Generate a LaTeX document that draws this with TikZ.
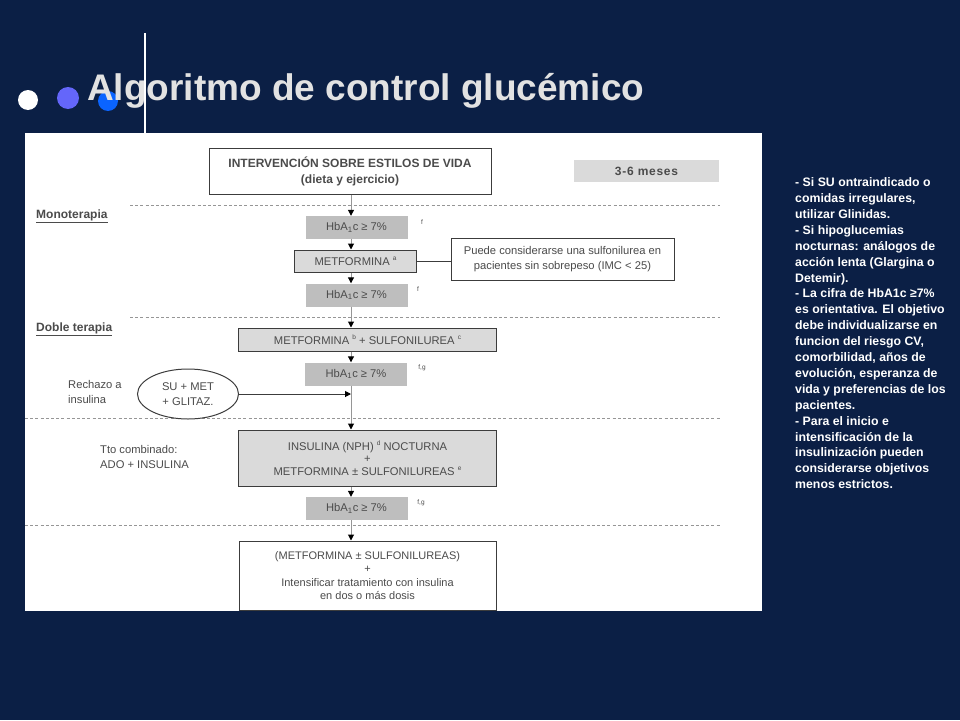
\documentclass[tikz,border=0pt]{standalone}
\usepackage{fontspec}
\setmainfont{Liberation Sans}
\usetikzlibrary{arrows.meta,shapes.geometric}
\definecolor{navy}{RGB}{11,31,69}
\definecolor{dotA}{RGB}{100,102,250}
\definecolor{dotB}{RGB}{10,100,255}
\definecolor{titlec}{RGB}{226,226,226}
\definecolor{hbgray}{RGB}{190,190,190}
\definecolor{boxgray}{RGB}{218,218,218}
\definecolor{edgec}{RGB}{60,60,60}
\definecolor{txtc}{RGB}{75,75,75}
\definecolor{linec}{RGB}{150,150,150}
\newcommand{\sr}[1]{\raisebox{0.45em}{\fontsize{6.5}{7}\selectfont #1}}
\begin{document}
\begin{tikzpicture}[x=1pt,y=-1pt,
  ff/.style={font=\fontsize{11.2}{13}\selectfont, text=txtc},
  fb/.style={font=\fontsize{12}{16}\selectfont\bfseries, text=txtc},
  hbbox/.style={ff, fill=hbgray, minimum width=102, minimum height=23, inner sep=0},
  widebox/.style={ff, fill=boxgray, draw=edgec, line width=1, inner sep=0, align=center},
  whitebox/.style={fill=white, draw=edgec, line width=1, inner sep=0, align=center},
  conn/.style={draw=linec, line width=1, -{Triangle[length=6,width=6,fill=black,color=black]}},
  plainconn/.style={draw=edgec, line width=1},
  dline/.style={draw=linec, line width=0.9, dash pattern=on 3 off 2.2},
  lbl/.style={font=\fontsize{11.2}{15}\selectfont, text=txtc, align=left, inner sep=0},
  sup/.style={font=\fontsize{6.5}{7}\selectfont, text=txtc, inner sep=0}
]
\useasboundingbox (0,0) rectangle (960,720);
\fill[navy] (0,0) rectangle (960,720);
\fill[white] (25,133) rectangle (762,611);

% header decoration
\fill[white] (28,100) circle (10);
\fill[dotA] (68,98) circle (11);
\fill[dotB] (108,101) circle (10);
\node[anchor=base west, inner sep=0, text=titlec, font=\fontsize{37}{40}\selectfont\bfseries] (title) at (87,100) {Algoritmo de control glucémico};
\draw[white, line width=2.5] (145,33) -- (145,133);

\coordinate (sp) at (351,0);

% dashed separators
\draw[dline] (130,205) -- (720,205);
\draw[dline] (130,317) -- (720,317);
\draw[dline] (25,418) -- (720,418);
\draw[dline] (25,525) -- (720,525);

% nodes
\node[whitebox, minimum width=282, minimum height=46, fb] (top) at (350,171) {INTERVENCIÓN SOBRE ESTILOS DE VIDA\\(dieta y ejercicio)};
\node[fill=boxgray, minimum width=145, minimum height=22, inner sep=0, fb] (meses) at (646.5,171) {\addfontfeature{LetterSpace=6}3-6 meses};

\node[hbbox] (hb1) at (356.5,227.5) {HbA\textsubscript{1}c ≥ 7\%};
\node[sup] (f1) at (422,222) {f};
\node[widebox, minimum width=122, minimum height=22] (met) at (355.5,261) {METFORMINA \sr{a}};
\node[whitebox, ff, minimum width=223, minimum height=42, font=\fontsize{11.2}{15}\selectfont] (side) at (562.5,259) {Puede considerarse una sulfonilurea en\\pacientes sin sobrepeso (IMC < 25)};
\node[hbbox] (hb2) at (356.5,295) {HbA\textsubscript{1}c ≥ 7\%};
\node[sup] (f2) at (418,289) {f};

\node[widebox, minimum width=258, minimum height=23] (msu) at (367.5,339.5) {METFORMINA \sr{b} + SULFONILUREA \sr{c}};
\node[hbbox] (hb3) at (356,374) {HbA\textsubscript{1}c ≥ 7\%};
\node[sup] (f3) at (422,368) {f,g};
\node[ellipse, draw=edgec, line width=1, fill=white, minimum width=101, minimum height=50, inner sep=0, align=center, font=\fontsize{11.2}{15}\selectfont, text=txtc] (el) at (188,394) {SU + MET\\+ GLITAZ.};

\node[widebox, minimum width=258, minimum height=56, font=\fontsize{11.2}{12.5}\selectfont] (ins) at (367.5,458) {INSULINA (NPH) \sr{d} NOCTURNA\\+\\METFORMINA ± SULFONILUREAS \sr{e}};
\node[hbbox] (hb4) at (356.5,508.5) {HbA\textsubscript{1}c ≥ 7\%};
\node[sup] (f4) at (421,503) {f,g};

\node[whitebox, minimum width=257, minimum height=69, font=\fontsize{11}{13.5}\selectfont, text=txtc] (fin) at (367.5,575.5) {(METFORMINA ± SULFONILUREAS)\\+\\Intensificar tratamiento con insulina\\en dos o más dosis};

% left labels
\node[anchor=west, inner sep=0, font=\fontsize{12}{14}\selectfont\bfseries, text=txtc] (mono) at (36,216) {\underline{Monoterapia}};
\node[anchor=west, inner sep=0, font=\fontsize{12}{14}\selectfont\bfseries, text=txtc] (doble) at (36,329) {\underline{Doble terapia}};
\node[lbl, anchor=west] (rech) at (68,392) {Rechazo a\\insulina};
\node[lbl, anchor=west] (tto) at (100,457) {Tto combinado:\\ADO + INSULINA};

% connectors
\draw[conn] (top.south -| sp) -- (hb1.north -| sp);
\draw[conn] (hb1.south -| sp) -- (met.north -| sp);
\draw[conn] (met.south -| sp) -- (hb2.north -| sp);
\draw[conn] (hb2.south -| sp) -- (msu.north -| sp);
\draw[conn] (msu.south -| sp) -- (hb3.north -| sp);
\draw[conn] (hb3.south -| sp) -- (ins.north -| sp);
\draw[conn] (ins.south -| sp) -- (hb4.north -| sp);
\draw[conn] (hb4.south -| sp) -- (fin.north -| sp);
\draw[conn, draw=edgec] (el.east) -- (el.east -| sp);
\draw[plainconn] (met.east) -- (side.west |- met.east);

% right notes
\node[anchor=north west, inner sep=0, align=left, text=white, font=\fontsize{12.3}{15.9}\selectfont\bfseries] (notes) at (795,177.5) {- Si SU ontraindicado o\\comidas irregulares,\\utilizar Glinidas.\\- Si hipoglucemias\\nocturnas: análogos de\\acción lenta (Glargina o\\Detemir).\\- La cifra de HbA1c ≥7\%\\es orientativa. El objetivo\\debe individualizarse en\\funcion del riesgo CV,\\comorbilidad, años de\\evolución, esperanza de\\vida y preferencias de los\\pacientes.\\- Para el inicio e\\intensificación de la\\insulinización pueden\\considerarse objetivos\\menos estrictos.};
\end{tikzpicture}
\end{document}
